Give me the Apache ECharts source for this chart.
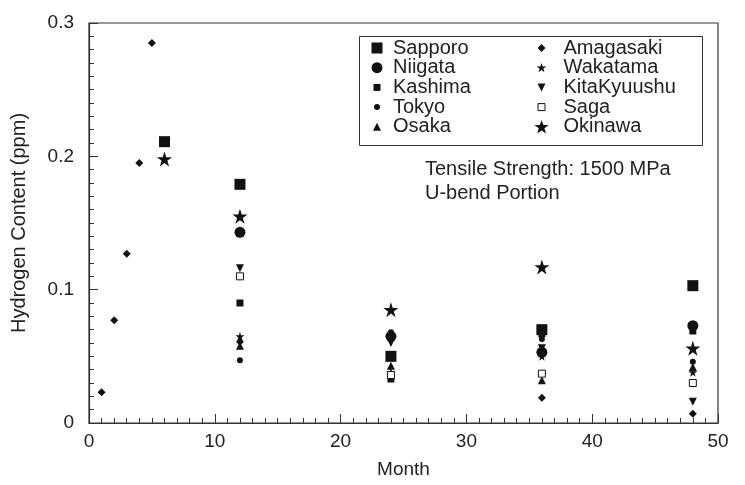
<!DOCTYPE html>
<html><head><meta charset="utf-8">
<script src="https://cdn.jsdelivr.net/npm/echarts@6/dist/echarts.min.js"></script>
<style>html,body{margin:0;padding:0;background:#fff}#c{width:745px;height:485px}</style>
</head><body><div id="c"></div><script>
// ---- data ----
const seriesNames = ['Sapporo','Niigata','Kashima','Tokyo','Osaka','Amagasaki','Wakatama','KitaKyuushu','Saga','Okinawa'];
const sapporoMonths = [6,12,24,36,48];
const sapporoValues = [0.211,0.179,0.050,0.070,0.103];
const niigataMonths = [12,24,36,48];
const niigataValues = [0.143,0.065,0.053,0.073];
const kashimaMonths = [12,24,36,48];
const kashimaValues = [0.090,0.033,0.067,0.069];
const tokyoMonths = [12,24,36,48];
const tokyoValues = [0.047,0.068,0.063,0.046];
const osakaMonths = [12,24,36,48];
const osakaValues = [0.058,0.043,0.032,0.042];
const amagasakiMonths = [1,2,3,4,5,12,24,36,48];
const amagasakiValues = [0.023,0.077,0.127,0.195,0.285,0.061,0.036,0.019,0.007];
const wakatamaMonths = [12,24,36,48];
const wakatamaValues = [0.065,0.038,0.050,0.038];
const kitaMonths = [12,24,36,48];
const kitaValues = [0.116,0.060,0.056,0.016];
const sagaMonths = [12,24,36,48];
const sagaValues = [0.110,0.036,0.037,0.030];
const okinawaMonths = [6,12,24,36,48];
const okinawaValues = [0.198,0.155,0.085,0.117,0.056];
const yTickLabels = ['0','0.1','0.2','0.3'];
const xTickLabels = ['0','10','20','30','40','50'];
const annotationLines = ['Tensile Strength: 1500 MPa','U-bend Portion'];

const allMonths = [sapporoMonths,niigataMonths,kashimaMonths,tokyoMonths,osakaMonths,amagasakiMonths,wakatamaMonths,kitaMonths,sagaMonths,okinawaMonths];
const allValues = [sapporoValues,niigataValues,kashimaValues,tokyoValues,osakaValues,amagasakiValues,wakatamaValues,kitaValues,sagaValues,okinawaValues];

// ---- styles ----
const INK = '#111';
const FONT = 'Liberation Sans';
const STAR = 'path://M50,0 L61.2,34.5 L97.6,34.5 L68.2,55.9 L79.4,90.5 L50,69.1 L20.6,90.5 L31.8,55.9 L2.4,34.5 L38.8,34.5 Z';
const styles = [
  {symbol:'rect', size:11},
  {symbol:'circle', size:11},
  {symbol:'rect', size:7},
  {symbol:'circle', size:6},
  {symbol:'triangle', size:8},
  {symbol:'diamond', size:8},
  {symbol:STAR, size:9},
  {symbol:'triangle', size:8, rotate:180},
  {symbol:'rect', size:7, hollow:true},
  {symbol:STAR, size:15}
];
// legend icons drawn inside an IW x IH px box; U = path units per px
const IW = 24, IH = 16, U = 10;
const BOX = `path://M0,0 M${IW*U},${IH*U} `;
function f(v){return v.toFixed(2);}
function pSq(px,c){const s=px/2*U,cx=c*U,cy=IH/2*U;return BOX+`M${f(cx-s)},${f(cy-s)} L${f(cx+s)},${f(cy-s)} L${f(cx+s)},${f(cy+s)} L${f(cx-s)},${f(cy+s)} Z`;}
function pCirc(px,c){const r=px/2*U,cx=c*U,cy=IH/2*U;return BOX+`M${f(cx-r)},${f(cy)} A${f(r)},${f(r)} 0 1 0 ${f(cx+r)},${f(cy)} A${f(r)},${f(r)} 0 1 0 ${f(cx-r)},${f(cy)} Z`;}
function pTri(px,c,down){const s=px/2*U,cx=c*U,cy=IH/2*U;return down?BOX+`M${f(cx-s)},${f(cy-s)} L${f(cx+s)},${f(cy-s)} L${f(cx)},${f(cy+s)} Z`:BOX+`M${f(cx)},${f(cy-s)} L${f(cx+s)},${f(cy+s)} L${f(cx-s)},${f(cy+s)} Z`;}
function pDia(px,c){const s=px/2*U,cx=c*U,cy=IH/2*U;return BOX+`M${f(cx)},${f(cy-s)} L${f(cx+s)},${f(cy)} L${f(cx)},${f(cy+s)} L${f(cx-s)},${f(cy)} Z`;}
function pStar(px,c){const R=px/2*U,r=R*0.4,cx=c*U,cy=IH/2*U+R*0.08;let d='';for(let i=0;i<10;i++){const a=-Math.PI/2+i*Math.PI/5;const rr=i%2?r:R;d+=(i?' L':'M')+f(cx+rr*Math.cos(a))+','+f(cy+rr*Math.sin(a));}return BOX+d+' Z';}
const C1 = 13, C2 = 7; // icon centre inside the icon box, per column
const legendIcons = [pSq(11,C1),pCirc(11,C1),pSq(7,C1),pCirc(6,C1),pTri(8,C1),
                     pDia(8,C2),pStar(10,C2),pTri(8,C2,true),pSq(7,C2),pStar(15,C2)];

const series = seriesNames.map((name,i)=>{
  const st = styles[i];
  return {
    name, type:'scatter', symbol:st.symbol, symbolSize:st.size, symbolRotate:st.rotate||0,
    itemStyle: st.hollow ? {color:'#fff', borderColor:INK, borderWidth:1, opacity:1} : {color:INK, opacity:1},
    emphasis:{disabled:true},
    data: allMonths[i].map((m,j)=>[m, allValues[i][j]])
  };
});

function legendData(idx){return idx.map(i=>{
  const it = {name:seriesNames[i], icon:legendIcons[i]};
  it.itemStyle = styles[i].hollow ? {color:'#fff', borderColor:INK, borderWidth:1} : {color:INK, borderWidth:0};
  return it;});}
const legendCommon = {orient:'vertical', itemWidth:IW, itemHeight:IH, itemGap:-0.3, selectedMode:false,
  textStyle:{fontFamily:FONT, fontSize:20, color:'#222', lineHeight:16}, padding:0};

const option = {
  backgroundColor:'#fff',
  animation:false,
  grid:{left:89, top:23, width:629, height:400, show:true, borderColor:'#333', borderWidth:1.2, backgroundColor:'transparent'},
  xAxis:{type:'value', min:0, max:50, interval:10,
    name:'Month', nameLocation:'middle', nameGap:37,
    nameTextStyle:{fontFamily:FONT, fontSize:19, color:'#222'},
    axisLine:{show:true, lineStyle:{color:'#333', width:1.2}},
    axisTick:{show:true, inside:true, length:9, lineStyle:{color:'#333'}},
    minorTick:{show:true, splitNumber:10, length:5, lineStyle:{color:'#333'}},
    splitLine:{show:false},
    axisLabel:{fontFamily:FONT, fontSize:19, color:'#222', margin:9, formatter:(v)=>xTickLabels[Math.round(v/10)]}
  },
  yAxis:{type:'value', min:0, max:0.3, interval:0.1,
    name:'Hydrogen Content (ppm)', nameLocation:'middle', nameGap:60,
    nameTextStyle:{fontFamily:FONT, fontSize:20, color:'#222'},
    axisLine:{show:true, lineStyle:{color:'#333', width:1.2}},
    axisTick:{show:true, inside:true, length:9, lineStyle:{color:'#333'}},
    minorTick:{show:true, splitNumber:10, length:5, lineStyle:{color:'#333'}},
    splitLine:{show:false},
    axisLabel:{fontFamily:FONT, fontSize:19, color:'#222', margin:15, formatter:(v)=>yTickLabels[Math.round(v*10)]}
  },
  legend:[
    Object.assign({}, legendCommon, {left:364, top:38, data:legendData([0,1,2,3,4])}),
    Object.assign({}, legendCommon, {left:534, top:38, data:legendData([5,6,7,8,9])})
  ],
  graphic:[
    {type:'rect', left:357, top:34, shape:{width:343, height:109}, style:{fill:'none', stroke:'#333', lineWidth:1}, z:0},
    {type:'text', left:425, top:159, style:{text:annotationLines[0], font:'20px "Liberation Sans"', fill:'#222'}},
    {type:'text', left:425, top:183, style:{text:annotationLines[1], font:'20px "Liberation Sans"', fill:'#222'}}
  ],
  series
};
const chart = echarts.init(document.getElementById('c'), null, {renderer:'canvas'});
chart.setOption(option);
</script></body></html>
